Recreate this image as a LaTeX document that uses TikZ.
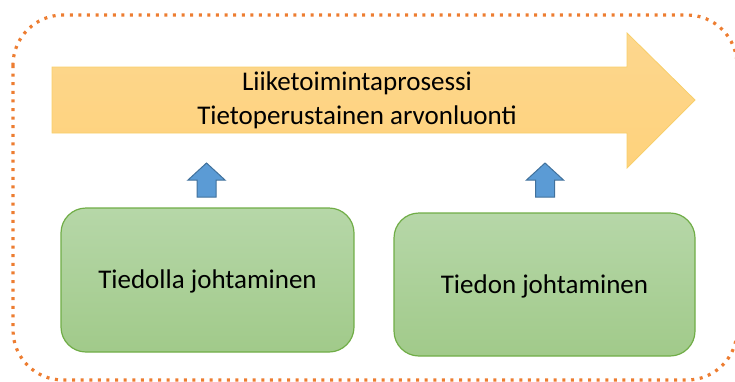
\documentclass[tikz,border=0pt]{standalone}
\usepackage{fontspec}
\setmainfont{Carlito}
\begin{document}
\begin{tikzpicture}[x=1pt,y=-1pt,
  frame/.style={draw=frameorange,line width=3.2pt,dash pattern=on 3pt off 5.6pt,rounded corners=50pt},
  flow/.style={draw=flowedge,line width=0.8pt,top color=flowtop,bottom color=flowbot},
  lift/.style={draw=liftedge,line width=1pt,fill=liftfill},
  area/.style={draw=areaedge,line width=1.2pt,rounded corners=25pt,top color=areatop,bottom color=areabot},
  label/.style={font=\fontsize{27}{34}\selectfont,text=black,align=center}]
\definecolor{frameorange}{HTML}{ED7D31}
\definecolor{flowedge}{HTML}{F8CF6A}
\definecolor{flowtop}{HTML}{FDD78E}
\definecolor{flowbot}{HTML}{FED27C}
\definecolor{liftedge}{HTML}{41719C}
\definecolor{liftfill}{HTML}{5B9BD5}
\definecolor{areaedge}{HTML}{70AD47}
\definecolor{areatop}{HTML}{B6D7A8}
\definecolor{areabot}{HTML}{A1CA8A}
\useasboundingbox (0,0) rectangle (735,381);
\clip (0,0) rectangle (735,381);
% dotted outer boundary, partly running off the page
\draw[frame] (13,15) rectangle (737,380);
% process arrow
\draw[flow] (52,67) -- (627,67) -- (627,33) -- (695,100) -- (627,168) -- (627,133) -- (52,133) -- cycle;
\node[label] (proc) at (357,100) {Liiketoimintaprosessi\\Tietoperustainen arvonluonti};
% small upward arrows
\draw[lift] (206.5,163) -- (225,180) -- (216,180) -- (216,197) -- (197,197) -- (197,180) -- (188,180) -- cycle;
\draw[lift] (545,163) -- (563.5,180) -- (554.5,180) -- (554.5,197) -- (535.5,197) -- (535.5,180) -- (526.5,180) -- cycle;
% two management areas
\draw[area] (61,208) rectangle (354,352);
\node[label] (lead) at (207.5,281) {Tiedolla johtaminen};
\draw[area] (394,213) rectangle (695,356);
\node[label] (mgmt) at (544.5,286) {Tiedon johtaminen};
\end{tikzpicture}
\end{document}
